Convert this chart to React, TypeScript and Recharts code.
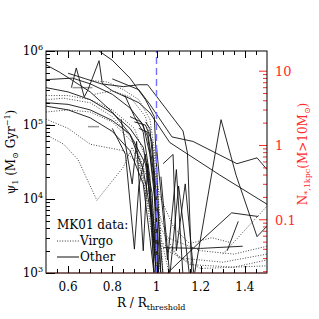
import { LineChart, Line, XAxis, YAxis, ReferenceLine } from "recharts";

// plot box (pixels) used by the decorations drawn over the chart
const W = 319;
const H = 319;
const BOX = { left: 46, right: 267, top: 51, bottom: 273 };
const RED = "#ff2a2a";
const FONT = "DejaVu Serif";
const X_DOMAIN = [0.5, 1.5];
const Y_DOMAIN = [1000, 1000000];

// axis ticks
const xTicks = [0.55, 0.6, 0.65, 0.7, 0.75, 0.8, 0.85, 0.9, 0.95, 1, 1.05, 1.1, 1.15, 1.2, 1.25, 1.3, 1.35, 1.4, 1.45];
const xLabels = [0.6, 0.8, 1, 1.2, 1.4];
const yTicks = [
  1000, 2000, 3000, 4000, 5000, 6000, 7000, 8000, 9000,
  10000, 20000, 30000, 40000, 50000, 60000, 70000, 80000, 90000,
  100000, 200000, 300000, 400000, 500000, 600000, 700000, 800000, 900000, 1000000,
];
const yLabels = [1000, 10000, 100000, 1000000];
const nTicks = [
  0.02, 0.03, 0.04, 0.05, 0.06, 0.07, 0.08, 0.09,
  0.1, 0.2, 0.3, 0.4, 0.5, 0.6, 0.7, 0.8, 0.9,
  1, 2, 3, 4, 5, 6, 7, 8, 9, 10,
];
const nLabels = [0.1, 1, 10];

// "Other" galaxies (solid), [R/Rthr, psi1]
const other1 = [[0.5, 6.5e5], [0.56, 5.2e5], [0.62, 4.0e5], [0.7, 2.8e5], [0.8, 1.5e5], [0.88, 7.5e4], [0.94, 2.5e4], [0.98, 5e3], [1.0, 900]];
const other2 = [[0.5, 4.1e5], [0.62, 4.3e5], [0.7, 3.6e5], [0.8, 2.6e5], [0.88, 1.7e5], [0.94, 1.0e5], [0.97, 4e4], [1.0, 6e3], [1.01, 900]];
const other3 = [[0.5, 3.2e5], [0.6, 2.8e5], [0.7, 2.2e5], [0.8, 1.45e5], [0.88, 9e4], [0.94, 5e4], [0.98, 1.2e4], [1.0, 900]];
const other4 = [[0.5, 2.0e5], [0.6, 1.9e5], [0.7, 1.6e5], [0.8, 1.15e5], [0.88, 7.5e4], [0.95, 3e4], [0.99, 4e3], [1.01, 900]];
const other5 = [[0.5, 1.8e5], [0.6, 1.6e5], [0.7, 1.25e5], [0.8, 8.2e4], [0.88, 4.5e4], [0.94, 1.6e4], [0.97, 3e3], [0.99, 900]];
const other6 = [[0.74, 1.0e6], [0.8, 7.5e5], [0.88, 4.3e5], [0.95, 2.2e5], [0.99, 1.3e5], [1.0, 3e4], [1.02, 900]];
const other7 = [[0.615, 3.2e5], [0.637, 5.9e5], [0.673, 2.4e5], [0.69, 3.0e5], [0.74, 7.4e5], [0.755, 3.6e5], [0.8, 2.9e5], [0.86, 2.4e5], [0.9, 1.3e5], [0.94, 8e4], [0.97, 2e4], [0.99, 900]];
const other8 = [[0.6, 5.0e5], [0.68, 4.2e5], [0.75, 3.6e5], [0.85, 3.3e5], [0.92, 3.5e5], [0.96, 3.5e5], [1.12, 8.3e4], [1.14, 4.2e4], [1.16, 900]];
const other9 = [[0.8, 4.2e5], [0.92, 3.0e5], [0.97, 1.9e5], [1.07, 6.9e4], [1.165, 6.0e4], [1.364, 3.0e4], [1.455, 3.6e4], [1.5, 2.5e4]];
const other10 = [[0.85, 2.5e5], [0.92, 2.0e5], [0.97, 1.46e5], [1.06, 5.8e4], [1.287, 2.1e4], [1.5, 8.5e3]];
const other11 = [[1.17, 900], [1.292, 1.18e5], [1.36, 2.1e4], [1.455, 3.1e3], [1.5, 4.3e3]];
const other12 = [[1.05, 1000], [1.2, 2.7e3], [1.34, 6.5e3], [1.46, 5.8e3]];
const other13 = [[1.32, 2.0e3], [1.37, 5.0e3]];
const other14 = [[1.03, 2.2e3], [1.2, 2.15e3], [1.39, 2.3e3]];
const other15 = [[1.0, 5e4], [1.05, 1.5e3], [1.09, 2.5e4], [1.12, 900]];
const other16 = [[1.02, 2e4], [1.06, 900], [1.1, 1.5e4], [1.15, 900]];
const other17 = [[1.03, 3e4], [1.075, 4e4], [1.09, 2e3], [1.13, 1.6e4], [1.17, 900]];
const other18 = [[0.8, 9e4], [0.86, 4e4], [0.9, 2.1e3], [0.92, 1.5e4], [0.95, 4e4], [0.98, 5e3], [1.0, 900]];
const other19 = [[0.84, 1.2e5], [0.89, 1.6e4], [0.91, 6e4], [0.94, 2e3], [0.96, 3e4], [0.99, 900]];
const other20 = [[0.9, 1.1e5], [0.95, 1.0e5], [0.98, 6e4], [1.0, 1e4], [1.03, 900]];
const other21 = [[0.92, 9e4], [0.96, 8e4], [0.99, 2e4], [1.01, 900]];
const other22 = [[0.95, 1.1e5], [0.97, 9e4], [0.985, 3e4], [1.0, 2e3]];
const other23 = [[0.88, 1.3e5], [0.93, 1.1e5], [0.96, 7e4], [0.99, 1.5e4], [1.02, 900]];

// Virgo galaxies (dotted)
const virgo1 = [[0.5, 2.5e5], [0.6, 2.5e5], [0.7, 2.2e5], [0.8, 1.6e5], [0.9, 9e4], [0.96, 3e4], [1.0, 1.5e3]];
const virgo2 = [[0.5, 2.2e5], [0.58, 2.3e5], [0.7, 2.0e5], [0.8, 1.3e5], [0.9, 6e4], [0.97, 1.5e4], [1.02, 900]];
const virgo3 = [[0.5, 1.5e5], [0.6, 1.6e5], [0.7, 1.5e5], [0.8, 1.1e5], [0.9, 5.5e4], [0.97, 1e4], [1.0, 1.2e3]];
const virgo4 = [[0.5, 1.2e5], [0.6, 9e4], [0.7, 5.5e4], [0.77, 5e4], [0.85, 4.5e4], [0.92, 3e4], [0.98, 5e3], [1.01, 900]];
const virgo5 = [[0.5, 7.4e4], [0.58, 5.5e4], [0.645, 3.4e4], [0.73, 9.6e3], [0.85, 2.7e4], [0.89, 5e4], [0.94, 2e4], [0.99, 2e3]];
const virgo6 = [[0.7, 4.0e5], [0.78, 3.8e5], [0.85, 3.0e5], [0.92, 2.2e5], [0.97, 1.2e5], [1.0, 3e4], [1.03, 900]];
const virgo7 = [[0.72, 2.6e5], [0.8, 2.9e5], [0.88, 2.4e5], [0.95, 1.3e5], [0.99, 4e4], [1.02, 3e3], [1.06, 900]];
const virgo8 = [[1.0, 8e3], [1.05, 3e3], [1.2, 2e3], [1.35, 1.8e3], [1.5, 2.3e3]];
const virgo9 = [[1.02, 4e3], [1.1, 1.6e3], [1.3, 1.4e3], [1.5, 1.8e3]];
const virgo10 = [[1.03, 2.5e3], [1.15, 1.3e3], [1.35, 1.2e3], [1.5, 1.5e3]];
const virgo11 = [[1.05, 2e3], [1.2, 1.15e3], [1.5, 1.25e3]];
const virgo12 = [[1.3, 1.8e3], [1.5, 8e3]];
const virgo13 = [[0.98, 3e4], [1.02, 1e4], [1.08, 4e3], [1.15, 2.5e3], [1.25, 3e3], [1.33, 2.6e3]];

// short grey bars
const grey1 = [[0.5, 1.0e5], [0.52, 1.0e5]];
const grey2 = [[0.69, 9.5e4], [0.74, 9.5e4]];
const grey3 = [[0.62, 3.2e5], [0.71, 3.2e5]];

const otherSeries = [other1, other2, other3, other4, other5, other6, other7, other8, other9, other10, other11, other12, other13, other14, other15, other16, other17, other18, other19, other20, other21, other22, other23];
const virgoSeries = [virgo1, virgo2, virgo3, virgo4, virgo5, virgo6, virgo7, virgo8, virgo9, virgo10, virgo11, virgo12, virgo13];
const greySeries = [grey1, grey2, grey3];

const toRows = (pts: number[][]) => pts.map(([x, y]) => ({ x, y }));

const isMajorX = (v: number) => xLabels.some((m) => Math.abs(m - v) < 1e-6);

// same mapping as the chart axes, for the tick marks of the frame
const sx = (v: number) => BOX.left + ((v - X_DOMAIN[0]) / (X_DOMAIN[1] - X_DOMAIN[0])) * (BOX.right - BOX.left);
const sy = (v: number) =>
  BOX.top + ((Math.log10(Y_DOMAIN[1]) - Math.log10(v)) / (Math.log10(Y_DOMAIN[1]) - Math.log10(Y_DOMAIN[0]))) * (BOX.bottom - BOX.top);

const BottomTick = (p: any) => {
  const { x, y, payload } = p;
  if (!isMajorX(payload.value)) return <g />;
  return (
    <text x={x} y={y + 18} textAnchor="middle" fontFamily={FONT} fontSize={12} fill="#000">
      {String(payload.value)}
    </text>
  );
};

const LeftTick = (p: any) => {
  const { x, y, payload } = p;
  if (!yLabels.includes(payload.value)) return <g />;
  const exp = Math.round(Math.log10(payload.value));
  return (
    <text x={x - 3} y={y + 4} textAnchor="end" fontFamily={FONT} fontSize={12} fill="#000">
      10<tspan dy={-5} fontSize={8}>{exp}</tspan>
    </text>
  );
};

const RightTick = (p: any) => {
  const { x, y, payload } = p;
  const major = nLabels.some((m) => Math.abs(m - payload.value) < 1e-9);
  return (
    <g>
      <line x1={x - (major ? 8 : 4)} y1={y} x2={x} y2={y} stroke={RED} />
      {major && (
        <text x={x + 8} y={y + 5} textAnchor="start" fontFamily={FONT} fontSize={13} fill={RED}>
          {String(payload.value)}
        </text>
      )}
    </g>
  );
};

export default function App() {
  return (
    <div style={{ position: "absolute", left: 0, top: 0, width: W, height: H, background: "#fff" }}>
      <LineChart width={W} height={H} margin={{ top: BOX.top, right: 0, left: 0, bottom: 0 }}>
        <XAxis
          xAxisId={0}
          dataKey="x"
          type="number"
          domain={X_DOMAIN}
          allowDataOverflow
          ticks={xTicks}
          interval={0}
          height={H - BOX.bottom}
          axisLine={false}
          tickLine={false}
          tickSize={0}
          tickMargin={0}
          tick={<BottomTick />}
        />
        <YAxis
          yAxisId={0}
          type="number"
          scale="log"
          domain={Y_DOMAIN}
          allowDataOverflow
          ticks={yTicks}
          interval={0}
          width={BOX.left}
          axisLine={false}
          tickLine={false}
          tickSize={0}
          tickMargin={0}
          tick={<LeftTick />}
        />
        <YAxis
          yAxisId="right"
          orientation="right"
          type="number"
          scale="log"
          domain={[0.0192, 18.7]}
          allowDataOverflow
          ticks={nTicks}
          interval={0}
          width={W - BOX.right}
          axisLine={false}
          tickLine={false}
          tickSize={0}
          tickMargin={0}
          tick={<RightTick />}
        />
        {virgoSeries.map((s, i) => (
          <Line
            key={"v" + i}
            data={toRows(s)}
            dataKey="y"
            type="linear"
            stroke="#333"
            strokeWidth={0.9}
            strokeDasharray="1 1.6"
            dot={false}
            isAnimationActive={false}
          />
        ))}
        {greySeries.map((s, i) => (
          <Line key={"g" + i} data={toRows(s)} dataKey="y" stroke="#999" strokeWidth={1.5} dot={false} isAnimationActive={false} />
        ))}
        {otherSeries.map((s, i) => (
          <Line
            key={"o" + i}
            data={toRows(s)}
            dataKey="y"
            type="linear"
            stroke="#111"
            strokeWidth={0.9}
            dot={false}
            isAnimationActive={false}
          />
        ))}
        <ReferenceLine x={1} stroke="#7373ff" strokeWidth={1.4} strokeDasharray="7 4" />
      </LineChart>

      <svg width={W} height={H} style={{ position: "absolute", left: 0, top: 0, pointerEvents: "none" }}>
        <rect x={BOX.left} y={BOX.top} width={BOX.right - BOX.left} height={BOX.bottom - BOX.top} fill="none" stroke="#000" strokeWidth={1} />
        <line x1={BOX.left} y1={BOX.bottom} x2={BOX.right} y2={BOX.bottom} stroke="#8a4a4a" strokeWidth={1.2} />

        {xTicks.map((v) => {
          const len = isMajorX(v) ? 7 : 4;
          const px = Math.round(sx(v)) + 0.5;
          return (
            <g key={"xt" + v}>
              <line x1={px} y1={BOX.bottom} x2={px} y2={BOX.bottom - len} stroke="#000" />
              <line x1={px} y1={BOX.top} x2={px} y2={BOX.top + len} stroke="#000" />
            </g>
          );
        })}
        {yTicks.map((v) => {
          const len = yLabels.includes(v) ? 9 : 4;
          const py = Math.round(sy(v)) + 0.5;
          return <line key={"yt" + v} x1={BOX.left} y1={py} x2={BOX.left + len} y2={py} stroke="#000" />;
        })}

        <text fontFamily={FONT} fontSize={12} fill="#000" x={117} y={307}>
          R / R<tspan fontSize={8} dy={3}>threshold</tspan>
        </text>

        <text fontFamily={FONT} fontSize={12} fill="#000" transform="translate(15,152) rotate(-90)" textAnchor="middle">
          ψ<tspan fontSize={8} dy={3}>1</tspan>
          <tspan dy={-3}> (M</tspan>
          <tspan fontSize={8} dy={3}>⊙</tspan>
          <tspan dy={-3}> Gyr</tspan>
          <tspan fontSize={8} dy={-5}>−1</tspan>
          <tspan dy={5}>)</tspan>
        </text>

        <text fontFamily={FONT} fontSize={12} fill={RED} transform="translate(307,154) rotate(-90)" textAnchor="middle">
          N<tspan fontSize={8} dy={3}>*,1kpc</tspan>
          <tspan dy={-3}>(M&gt;10M</tspan>
          <tspan fontSize={8} dy={3}>⊙</tspan>
          <tspan dy={-3}>)</tspan>
        </text>

        <text fontFamily={FONT} fontSize={12} fill="#000" x={57} y={229}>MK01 data:</text>
        <line x1={57} y1={241} x2={79} y2={241} stroke="#333" strokeDasharray="1 1.6" />
        <text fontFamily={FONT} fontSize={12} fill="#000" x={80} y={245}>Virgo</text>
        <line x1={57} y1={257} x2={79} y2={257} stroke="#111" />
        <text fontFamily={FONT} fontSize={12} fill="#000" x={80} y={261}>Other</text>
      </svg>
    </div>
  );
}
